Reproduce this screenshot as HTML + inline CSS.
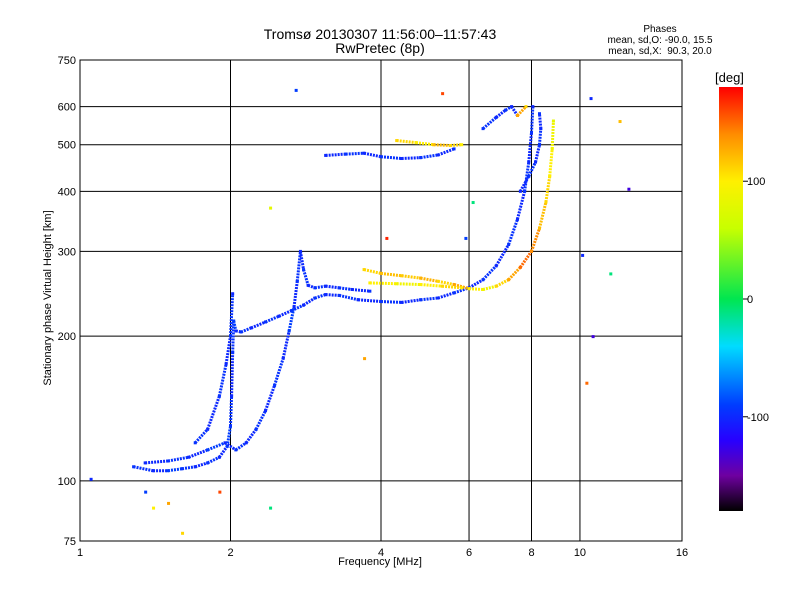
<!DOCTYPE html>
<html><head><meta charset="utf-8"><style>
body{margin:0;background:#fff;}
svg{display:block;font-family:"Liberation Sans","DejaVu Sans",sans-serif;}
</style></head><body>
<svg id="c" width="800" height="600"></svg>
<script>
const xTicks=[1,2,4,6,8,10,16];
const yTicks=[75,100,200,300,400,500,600,750];
const cbTicks=[100,0,-100];
// traces: [frequency MHz, virtual height km, phase deg]
const traceLowO=[[1.28,107,-95],[1.4,105,-100],[1.5,105,-90],[1.6,106,-95],[1.7,107,-100],[1.8,109,-95],[1.9,112,-100],[1.97,118,-90],[2.0,130,-95],[2.01,150,-100],[2.02,185,-95],[2.03,215,-90],[2.05,205,-100],[2.1,204,-95],[2.2,208,-100],[2.35,214,-95],[2.5,220,-100],[2.65,226,-95],[2.8,232,-100],[2.95,240,-95],[3.1,244,-100],[3.3,243,-95],[3.6,238,-100],[4.0,236,-95],[4.4,235,-100],[4.8,238,-95],[5.2,240,-100],[5.6,246,-95],[6.0,252,-100],[6.4,262,-95],[6.8,280,-100],[7.2,310,-95],[7.5,350,-100],[7.75,400,-95],[7.9,460,-100],[8.0,530,-95],[8.05,600,-100]];
const traceLowX=[[1.35,109,-100],[1.5,110,-95],[1.65,112,-100],[1.8,116,-90],[1.95,120,-100],[2.05,116,-95],[2.15,120,-100],[2.25,128,-95],[2.35,140,-100],[2.45,158,-95],[2.55,180,-100],[2.62,205,-90],[2.68,230,-100],[2.72,260,-95],[2.76,300,-100],[2.8,275,-95],[2.86,255,-100],[2.95,252,-95],[3.1,254,-100],[3.3,252,-95],[3.5,250,-100],[3.8,248,-95]];
const traceSpike=[[1.7,120,-95],[1.8,128,-100],[1.9,150,-95],[1.96,175,-100],[2.0,200,-95],[2.02,245,-100]];
const traceMidX=[[3.7,275,110],[4.0,270,120],[4.4,267,115],[4.8,264,125],[5.2,260,110],[5.6,256,130],[6.0,251,100],[6.4,250,90],[6.8,254,110],[7.2,262,130],[7.6,278,150],[8.0,300,140],[8.3,335,120],[8.55,380,110],[8.7,430,100],[8.8,490,90],[8.85,560,80]];
const traceMidX2=[[3.8,258,100],[4.3,257,90],[4.8,256,100],[5.3,254,110],[5.8,252,100]];
const traceF2=[[3.1,475,-100],[3.4,478,-95],[3.7,480,-100],[4.0,472,-95],[4.4,468,-100],[4.8,470,-95],[5.2,476,-100],[5.6,490,-95]];
const traceF2X=[[4.3,510,110],[4.7,505,100],[5.1,500,120],[5.5,498,110],[5.8,500,100]];
const traceTop=[[6.4,540,-95],[6.8,570,-100],[7.1,590,-95],[7.3,600,-100],[7.5,575,130],[7.8,600,110]];
const traceSteep=[[7.6,400,-100],[7.9,430,-95],[8.15,460,-100],[8.3,500,-95],[8.35,540,-100],[8.3,580,-95]];
const scatterPts=[[1.05,101,-100],[1.35,95,-90],[1.4,88,100],[1.5,90,130],[2.7,650,-90],[5.3,640,160],[5.9,320,-90],[4.1,320,170],[10.5,625,-100],[12,560,120],[12.5,405,-130],[10.6,200,-130],[10.3,160,150],[10.1,295,-100],[11.5,270,-10],[2.4,370,80],[3.7,180,130],[6.1,380,-10],[1.9,95,160],[2.4,88,-10],[1.6,78,110]];

const NS="http://www.w3.org/2000/svg";
const svg=document.getElementById('c');
const L=80,R=682,T=60,B=541;
const X=f=>L+(R-L)*Math.log2(f)/4;
const Y=h=>B-(B-T)*Math.log10(h/75);
function mk(tag,attrs,parent){const e=document.createElementNS(NS,tag);for(const k in attrs)e.setAttribute(k,attrs[k]);(parent||svg).appendChild(e);return e;}
const stops=[[-180,[0,0,0]],[-150,[110,0,160]],[-120,[40,0,255]],[-90,[0,60,255]],[-40,[0,220,255]],[0,[0,230,80]],[60,[200,255,0]],[100,[255,240,0]],[140,[255,140,0]],[180,[255,0,0]]];
function col(p){for(let i=1;i<stops.length;i++){if(p<=stops[i][0]){const a=stops[i-1],b=stops[i];const t=Math.max(0,(p-a[0])/(b[0]-a[0]));const c=a[1].map((v,j)=>Math.round(v+(b[1][j]-v)*t));return `rgb(${c})`;}}return 'rgb(255,0,0)';}

// grid
const grid=mk('g',{});


xTicks.forEach(v=>{if(v>1&&v<16)mk('line',{x1:X(v),x2:X(v),y1:T,y2:B,stroke:'#000','stroke-width':1},grid);});
yTicks.forEach(v=>{if(v>75&&v<750)mk('line',{x1:L,x2:R,y1:Y(v),y2:Y(v),stroke:'#000','stroke-width':1},grid);});
mk('rect',{x:L,y:T,width:R-L,height:B-T,fill:'none',stroke:'#000'});
// tick labels
xTicks.forEach(v=>{const t=mk('text',{x:X(v),y:B+15,'font-size':11,'text-anchor':'middle'});t.textContent=v;

});
yTicks.forEach(v=>{const t=mk('text',{x:L-4,y:Y(v)+4,'font-size':11,'text-anchor':'end'});t.textContent=v;

});
// traces
const traces=[traceLowO,traceLowX,traceSpike,traceMidX,traceMidX2,traceF2,traceF2X,traceTop,traceSteep];
traces.forEach(tr=>{const g=mk('g',{});


for(let i=0;i<tr.length-1;i++){mk('line',{x1:X(tr[i][0]),y1:Y(tr[i][1]),x2:X(tr[i+1][0]),y2:Y(tr[i+1][1]),stroke:col(tr[i][2]),'stroke-width':3,'stroke-dasharray':'2 1'},g);}
tr.forEach(p=>mk('rect',{x:X(p[0])-1.5,y:Y(p[1])-1.5,width:3,height:3,fill:col(p[2])},g));});
scatterPts.forEach(p=>{const r=mk('rect',{x:X(p[0])-1,y:Y(p[1])-1,width:3,height:3,fill:col(p[2])});

});
// colorbar
const defs=mk('defs',{});const gr=mk('linearGradient',{id:'cb',x1:0,y1:1,x2:0,y2:0},defs);
stops.forEach(s=>mk('stop',{offset:(s[0]+180)/360,'stop-color':col(s[0])},gr));
const cb=mk('rect',{x:719,y:87,width:24,height:424,fill:'url(#cb)'});


const CY=p=>511-424*(p+180)/360;
cbTicks.forEach(v=>{mk('line',{x1:743,x2:748,y1:CY(v),y2:CY(v),stroke:'#000'});const t=mk('text',{x:747,y:CY(v)+4,'font-size':11});t.textContent=v;

});
</script>
<div style="position:absolute;left:0;top:0;width:800px;height:600px;pointer-events:none;font-family:'Liberation Sans',sans-serif;">
<div style="position:absolute;left:200px;top:27px;width:360px;text-align:center;font-size:14px;line-height:14px;">Tromsø 20130307 11:56:00–11:57:43<br>RwPretec (8p)</div>
<div style="position:absolute;left:600px;top:24px;width:120px;text-align:center;font-size:10px;line-height:11px;">Phases<br>mean, sd,O: -90.0, 15.5<br>mean, sd,X:&nbsp; 90.3, 20.0</div>
<div style="position:absolute;left:715px;top:70px;font-size:13px;">[deg]</div>
<div style="position:absolute;left:300px;top:556px;width:160px;text-align:center;font-size:11px;">Frequency [MHz]</div>
<div style="position:absolute;left:-52px;top:292px;width:200px;text-align:center;font-size:11px;transform:rotate(-90deg);">Stationary phase Virtual Height [km]</div>
</div>
</body></html>
